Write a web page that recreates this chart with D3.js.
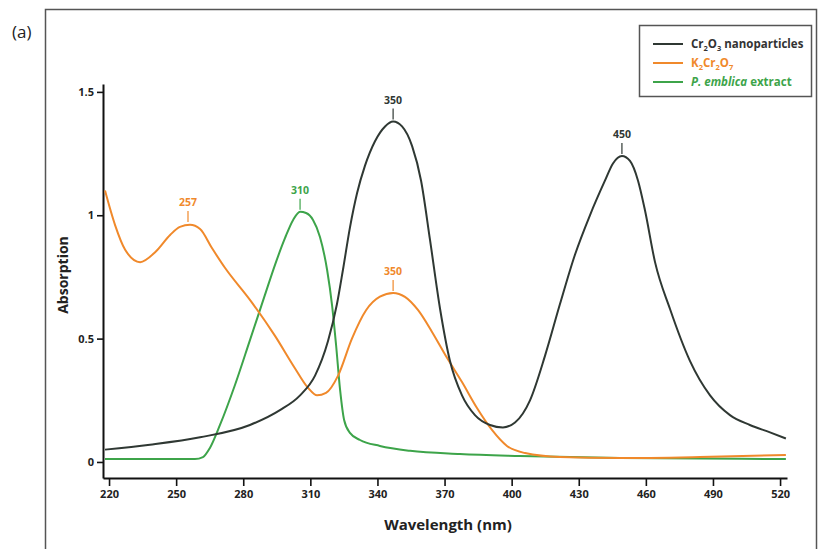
<!DOCTYPE html>
<html>
<head>
<meta charset="utf-8">
<script src="https://cdn.jsdelivr.net/npm/d3@7"></script>
<style>
  body { margin: 0; background: #fff; }
  svg { font-family: "Open Sans", "Liberation Sans", sans-serif; }
</style>
</head>
<body>
<svg id="chart"></svg>
<script>
// wavelength (nm) / absorption
const crNm = [218.2, 238.3, 260.7, 283, 296.4, 305.4, 312.1, 317.9, 321.9, 324.6, 327.7, 330.9, 334.4, 338.9, 343.4, 347, 351, 355.5, 359.5, 363.5, 368, 372.4, 377.8, 383.6, 390.3, 396.1, 401.5, 408.2, 414.9, 421.6, 428.3, 435, 441.7, 445.3, 449.3, 452.9, 456.5, 459.6, 464.1, 470.8, 479.7, 488.7, 497.6, 506.5, 515.5, 522.6];
const crAbs = [0.05, 0.07, 0.10, 0.15, 0.21, 0.27, 0.35, 0.49, 0.64, 0.78, 0.95, 1.09, 1.20, 1.30, 1.36, 1.38, 1.36, 1.28, 1.14, 0.90, 0.62, 0.41, 0.27, 0.19, 0.15, 0.14, 0.16, 0.25, 0.43, 0.64, 0.84, 1.00, 1.14, 1.21, 1.24, 1.22, 1.14, 1.02, 0.81, 0.62, 0.41, 0.27, 0.19, 0.15, 0.12, 0.095];

const kNm = [218.2, 222.7, 227.2, 233.9, 240.6, 247.3, 251.7, 256.2, 260.7, 266, 271.9, 283, 294.2, 303.1, 309, 313, 317, 322.4, 328.6, 334.9, 341.1, 347, 352.3, 358.1, 364.4, 371.1, 377.8, 384.5, 391.2, 397.9, 406, 421.6, 448.4, 484.2, 522.6];
const kAbs = [1.10, 0.96, 0.86, 0.81, 0.85, 0.92, 0.953, 0.961, 0.944, 0.867, 0.786, 0.657, 0.511, 0.38, 0.30, 0.27, 0.28, 0.35, 0.50, 0.615, 0.67, 0.685, 0.669, 0.616, 0.527, 0.422, 0.324, 0.219, 0.130, 0.065, 0.036, 0.020, 0.016, 0.020, 0.028];

const peNm = [218.2, 258.4, 262, 265.1, 269.6, 276.3, 283, 289.7, 294.2, 298.7, 302.3, 305.4, 308.1, 311.2, 314.3, 317.5, 319.7, 321.5, 323.3, 325.1, 327.7, 332.2, 341.1, 354.6, 376.9, 403.7, 448.4, 522.6];
const peAbs = [0.012, 0.012, 0.020, 0.057, 0.150, 0.312, 0.494, 0.677, 0.799, 0.908, 0.981, 1.014, 1.009, 0.981, 0.912, 0.778, 0.636, 0.474, 0.292, 0.170, 0.118, 0.089, 0.065, 0.045, 0.032, 0.024, 0.016, 0.012];

const xTicks = [220, 250, 280, 310, 340, 370, 400, 430, 460, 490, 520];
const yTicks = [0, 0.5, 1, 1.5];

const peakSeries = ["cr", "cr", "k", "pe", "k"];
const peakNm = [347, 449.3, 255.3, 305.4, 347];
const peakAbs = [1.38, 1.24, 0.965, 1.014, 0.685];
const peakText = ["350", "450", "257", "310", "350"];

const colors = {cr: "#2f3833", k: "#f0892b", pe: "#3da44a"};

const svgWidth = 819, svgHeight = 549;

const chart = d3.select('#chart')
    .attr("width", svgWidth)
    .attr("height", svgHeight);

// panel label and outer frame
chart.append("text")
    .attr("x", 12).attr("y", 38)
    .style("font-size", "17px")
    .attr("fill", "#222")
    .text("(a)");

chart.append("rect")
    .attr("x", 45.5).attr("y", 9.5)
    .attr("width", 771).attr("height", 560)
    .attr("fill", "none")
    .attr("stroke", "#555")
    .attr("stroke-width", 1.5);

var xScale = d3.scaleLinear().domain([217.3, 523.1]).range([103, 787]);
var yScale = d3.scaleLinear().domain([-0.065, 1.532]).range([478, 84]);

var xAxis = d3.axisBottom(xScale).tickValues(xTicks).tickSize(8).tickSizeOuter(0).tickPadding(4);
var yAxis = d3.axisLeft(yScale).tickValues(yTicks).tickSize(6).tickSizeOuter(0).tickPadding(3)
    .tickFormat(d3.format("~g"));

const gx = chart.append("g")
    .attr("transform", "translate(0,478)")
    .call(xAxis);
const gy = chart.append("g")
    .attr("transform", "translate(103,0)")
    .call(yAxis);

[gx, gy].forEach(function(g) {
    g.select(".domain").attr("stroke", "#111").attr("stroke-width", 2);
    g.selectAll(".tick line").attr("stroke", "#111").attr("stroke-width", 1.6);
    g.selectAll(".tick text")
        .attr("fill", "#222")
        .style("font-size", "11px")
        .style("font-weight", "bold")
        .style("font-family", "'Open Sans', sans-serif");
});

chart.append("text")
    .attr("x", 448).attr("y", 530)
    .attr("text-anchor", "middle")
    .style("font-size", "15px").style("font-weight", "bold")
    .attr("fill", "#222")
    .text("Wavelength (nm)");

chart.append("text")
    .attr("transform", "translate(68,275) rotate(-90)")
    .attr("text-anchor", "middle")
    .style("font-size", "14px").style("font-weight", "bold")
    .attr("fill", "#222")
    .text("Absorption");

// curves
var valueline = d3.line()
    .x(function(d){ return xScale(d[0]); })
    .y(function(d){ return yScale(d[1]); })
    .curve(d3.curveMonotoneX);

function draw(nm, abs, key) {
    chart.append("path")
        .datum(d3.zip(nm, abs))
        .attr("fill", "none")
        .attr("stroke", colors[key])
        .attr("stroke-width", 2)
        .attr("d", valueline);
}
draw(peNm, peAbs, "pe");
draw(kNm, kAbs, "k");
draw(crNm, crAbs, "cr");

// peak markers
peakText.forEach(function(t, i) {
    var px = xScale(peakNm[i]), py = yScale(peakAbs[i]);
    var c = colors[peakSeries[i]];
    chart.append("line")
        .attr("x1", px).attr("x2", px)
        .attr("y1", py - 2).attr("y2", py - 13)
        .attr("stroke", c).attr("stroke-width", 1.2);
    chart.append("text")
        .attr("x", px).attr("y", py - 18)
        .attr("text-anchor", "middle")
        .style("font-size", "10.5px").style("font-weight", "bold")
        .attr("fill", c)
        .text(t);
});

// legend
const legend = chart.append("g");
legend.append("rect")
    .attr("x", 639.5).attr("y", 25.5)
    .attr("width", 172).attr("height", 71)
    .attr("fill", "#fff")
    .attr("stroke", "#555")
    .attr("stroke-width", 1.5);

const legendRows = [
    {key: "cr", y: 44, parts: [["Cr"], ["2", "sub"], ["O"], ["3", "sub"], [" nanoparticles"]]},
    {key: "k", y: 63, parts: [["K"], ["2", "sub"], ["Cr"], ["2", "sub"], ["O"], ["7", "sub"]]},
    {key: "pe", y: 82, parts: [["P. emblica", "it"], [" extract"]]}
];

legendRows.forEach(function(r) {
    legend.append("line")
        .attr("x1", 653).attr("x2", 683)
        .attr("y1", r.y).attr("y2", r.y)
        .attr("stroke", colors[r.key]).attr("stroke-width", 2);
    var txt = legend.append("text")
        .attr("x", 691).attr("y", r.y + 4)
        .style("font-size", "11.5px").style("font-weight", "bold")
        .attr("fill", r.key == "cr" ? "#333" : colors[r.key]);
    r.parts.forEach(function(p) {
        var ts = txt.append("tspan").text(p[0]);
        if (p[1] == "sub") {
            ts.style("font-size", "7.5px").attr("dy", 3);
            ts.attr("class", "sub");
        } else if (p[1] == "it") {
            ts.style("font-style", "italic");
        }
    });
    // reset baseline after each subscript
    txt.selectAll("tspan").each(function(d, i, nodes) {
        var prev = i > 0 ? nodes[i - 1] : null;
        if (prev && prev.getAttribute("class") == "sub" && this.getAttribute("class") != "sub") {
            d3.select(this).attr("dy", -3);
        } else if (prev && prev.getAttribute("class") == "sub" && this.getAttribute("class") == "sub") {
            d3.select(this).attr("dy", 0);
        }
    });
});
</script>
</body>
</html>
